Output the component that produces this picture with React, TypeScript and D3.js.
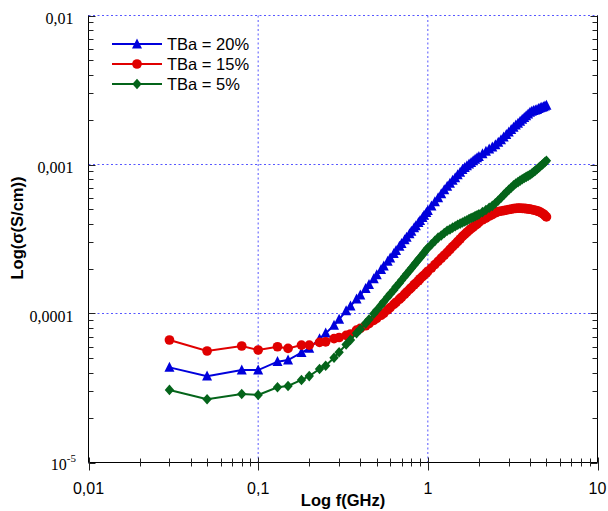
import React from "react";
import * as d3 from "d3";

const FREQ_GHZ = [0.03, 0.05, 0.08, 0.1, 0.13, 0.15, 0.18, 0.2, 0.23, 0.25, 0.28, 0.3, 0.33, 0.35, 0.38, 0.4, 0.43, 0.45, 0.48, 0.5, 0.53, 0.55, 0.58, 0.6, 0.63, 0.65, 0.68, 0.7, 0.73, 0.75, 0.78, 0.8, 0.83, 0.85, 0.88, 0.9, 0.93, 0.95, 0.98, 1.0,
  1.05, 1.1, 1.15, 1.2, 1.25, 1.3, 1.35, 1.4, 1.45, 1.5, 1.55, 1.6, 1.65, 1.7, 1.75, 1.8, 1.85, 1.9, 1.95, 2.0,
  2.1, 2.2, 2.3, 2.4, 2.5, 2.6, 2.7, 2.8, 2.9, 3.0, 3.1, 3.2, 3.3, 3.4, 3.5, 3.6, 3.7, 3.8, 3.9, 4.0, 4.1, 4.2, 4.3, 4.4, 4.5, 4.6, 4.7, 4.8, 4.9, 5.0];

const TBA20 = [4.35e-5, 3.8e-5, 4.17e-5, 4.17e-5, 4.75e-5, 4.87e-5, 5.46e-5, 5.83e-5, 6.76e-5, 7.38e-5, 8.32e-5, 9.12e-5, 1.04e-4, 1.12e-4, 1.25e-4, 1.33e-4, 1.47e-4, 1.56e-4, 1.71e-4, 1.82e-4, 1.97e-4, 2.08e-4, 2.24e-4, 2.35e-4, 2.52e-4, 2.64e-4, 2.82e-4, 2.94e-4, 3.12e-4, 3.24e-4, 3.43e-4, 3.56e-4, 3.75e-4, 3.87e-4, 4.07e-4, 4.21e-4, 4.41e-4, 4.55e-4, 4.75e-4, 4.9e-4,
  5.25e-4, 5.61e-4, 5.98e-4, 6.35e-4, 6.75e-4, 7.13e-4, 7.46e-4, 7.82e-4, 8.15e-4, 8.51e-4, 8.87e-4, 9.23e-4, 9.53e-4, 9.79e-4, 1.007e-3, 1.03e-3, 1.057e-3, 1.084e-3, 1.107e-3, 1.132e-3,
  1.18e-3, 1.225e-3, 1.27e-3, 1.31e-3, 1.355e-3, 1.406e-3, 1.466e-3, 1.528e-3, 1.589e-3, 1.652e-3, 1.714e-3, 1.778e-3, 1.837e-3, 1.89e-3, 1.95e-3, 2.01e-3, 2.065e-3, 2.12e-3, 2.18e-3, 2.24e-3, 2.27e-3, 2.3e-3, 2.32e-3, 2.34e-3, 2.37e-3, 2.4e-3, 2.42e-3, 2.44e-3, 2.47e-3, 2.49e-3];

const TBA15 = [6.64e-5, 5.6e-5, 6.05e-5, 5.69e-5, 5.98e-5, 5.83e-5, 6.14e-5, 6.14e-5, 6.4e-5, 6.46e-5, 6.78e-5, 6.9e-5, 7.13e-5, 7.28e-5, 7.73e-5, 7.94e-5, 8.28e-5, 8.55e-5, 8.99e-5, 9.29e-5, 9.73e-5, 1.002e-4, 1.057e-4, 1.096e-4, 1.151e-4, 1.189e-4, 1.247e-4, 1.285e-4, 1.346e-4, 1.39e-4, 1.452e-4, 1.493e-4, 1.56e-4, 1.6e-4, 1.66e-4, 1.71e-4, 1.77e-4, 1.81e-4, 1.87e-4, 1.92e-4,
  2.02e-4, 2.13e-4, 2.24e-4, 2.35e-4, 2.46e-4, 2.57e-4, 2.69e-4, 2.81e-4, 2.92e-4, 3.04e-4, 3.16e-4, 3.29e-4, 3.4e-4, 3.51e-4, 3.61e-4, 3.71e-4, 3.8e-4, 3.9e-4, 3.99e-4, 4.09e-4,
  4.25e-4, 4.37e-4, 4.5e-4, 4.61e-4, 4.74e-4, 4.83e-4, 4.86e-4, 4.91e-4, 4.94e-4, 4.99e-4, 5.02e-4, 5.06e-4, 5.08e-4, 5.09e-4, 5.09e-4, 5.08e-4, 5.07e-4, 5.05e-4, 5.03e-4, 5.01e-4, 4.99e-4, 4.95e-4, 4.92e-4, 4.89e-4, 4.84e-4, 4.79e-4, 4.72e-4, 4.65e-4, 4.55e-4, 4.45e-4];

const TBA5 = [3.07e-5, 2.66e-5, 2.88e-5, 2.84e-5, 3.2e-5, 3.26e-5, 3.58e-5, 3.8e-5, 4.24e-5, 4.46e-5, 5.05e-5, 5.5e-5, 6.19e-5, 6.65e-5, 7.38e-5, 7.85e-5, 8.59e-5, 9.12e-5, 9.95e-5, 1.052e-4, 1.138e-4, 1.197e-4, 1.29e-4, 1.35e-4, 1.44e-4, 1.51e-4, 1.6e-4, 1.67e-4, 1.77e-4, 1.84e-4, 1.94e-4, 2.01e-4, 2.12e-4, 2.19e-4, 2.3e-4, 2.37e-4, 2.48e-4, 2.56e-4, 2.68e-4, 2.75e-4,
  2.91e-4, 3.07e-4, 3.23e-4, 3.34e-4, 3.47e-4, 3.59e-4, 3.67e-4, 3.77e-4, 3.85e-4, 3.94e-4, 4.01e-4, 4.08e-4, 4.15e-4, 4.22e-4, 4.3e-4, 4.37e-4, 4.43e-4, 4.5e-4, 4.56e-4, 4.63e-4,
  4.79e-4, 4.95e-4, 5.12e-4, 5.28e-4, 5.5e-4, 5.73e-4, 5.98e-4, 6.25e-4, 6.52e-4, 6.76e-4, 7.0e-4, 7.24e-4, 7.45e-4, 7.62e-4, 7.8e-4, 7.96e-4, 8.11e-4, 8.26e-4, 8.39e-4, 8.53e-4, 8.71e-4, 8.91e-4, 9.1e-4, 9.29e-4, 9.51e-4, 9.73e-4, 9.93e-4, 1.016e-3, 1.038e-3, 1.059e-3];

const SERIES_NAMES = ["TBa = 20%", "TBa = 15%", "TBa = 5%"];
const X_TICK_VALUES = [0.01, 0.1, 1, 10];
const X_TICK_LABELS = ["0,01", "0,1", "1", "10"];
const Y_TICK_VALUES = [1e-2, 1e-3, 1e-4];
const Y_TICK_LABELS = ["0,01", "0,001", "0,0001"];
const X_TITLE = "Log f(GHz)";
const Y_TITLE = "Log(σ(S/cm))";

const W = 608, H = 511;
const LEFT = 88.5, RIGHT = 597.5, TOP = 15.5, BOTTOM = 462.5;

const COLORS = ["#0000dc", "#e00000", "#04641a"];

const triPath = "M0,-5.6L5,4.4L-5,4.4Z";
const circPath = d3.symbol().type(d3.symbolCircle).size(74)()!;
const diamPath = "M0,-5.3L4.7,0L0,5.3L-4.7,0Z";
const MARKERS = [triPath, circPath, diamPath];

export default function App() {
  const x = d3.scaleLog().domain([0.01, 10]).range([LEFT, RIGHT]);
  const y = d3.scaleLog().domain([1e-5, 1e-2]).range([BOTTOM, TOP]);
  const xTicks = x.ticks();
  const yTicks = y.ticks();
  const isMajor = (v: number) => Math.abs(Math.log10(v) - Math.round(Math.log10(v))) < 1e-6;

  const seriesData = [TBA20, TBA15, TBA5].map((vals) =>
    FREQ_GHZ.map((f, i) => [f, vals[i]] as [number, number])
  );
  const line = d3.line<[number, number]>().x((d) => x(d[0])).y((d) => y(d[1]));

  const gridColor = "#3a3aff";
  const sans = "'Liberation Sans', Arial, sans-serif";
  const serif = "'Liberation Serif', 'Times New Roman', serif";

  return (
    <svg width={W} height={H} style={{ position: "absolute", left: 0, top: 0, background: "#fff" }}>
      <g stroke={gridColor} strokeWidth={1} strokeDasharray="2,2.5" opacity={0.85}>
        {X_TICK_VALUES.map((v) => (
          <line key={"gx" + v} x1={x(v)} x2={x(v)} y1={TOP} y2={BOTTOM} />
        ))}
        {Y_TICK_VALUES.map((v) => (
          <line key={"gy" + v} x1={LEFT} x2={RIGHT} y1={y(v)} y2={y(v)} />
        ))}
      </g>
      <g stroke="#000" strokeWidth={1} fill="none">
        <line x1={LEFT} x2={LEFT} y1={TOP} y2={BOTTOM} />
        <line x1={RIGHT} x2={RIGHT} y1={TOP} y2={BOTTOM} />
        <line x1={LEFT} x2={RIGHT} y1={BOTTOM} y2={BOTTOM} />
      </g>
      <g stroke="#222" strokeWidth={1}>
        {yTicks.map((v, i) => {
          const len = isMajor(v) ? 7 : 5;
          const yy = Math.round(y(v)) + 0.5;
          return (
            <g key={"yt" + i}>
              <line x1={LEFT} x2={LEFT + len} y1={yy} y2={yy} />
              <line x1={RIGHT} x2={RIGHT - len} y1={yy} y2={yy} />
            </g>
          );
        })}
      </g>
      <g stroke="#222" strokeWidth={1}>
        {xTicks.map((v, i) => {
          const major = isMajor(v);
          const xx = Math.round(x(v)) + 0.5;
          return <line key={"xt" + i} x1={xx} x2={xx} y1={BOTTOM - (major ? 5 : 4)} y2={BOTTOM + (major ? 8 : 4)} />;
        })}
      </g>
      <g fontFamily={serif} fontSize={16} fill="#000" textAnchor="end">
        {Y_TICK_VALUES.map((v, i) => (
          <text key={"yl" + v} x={73.5} y={y(v) + 8}>{Y_TICK_LABELS[i]}</text>
        ))}
        <text x={76} y={y(1e-5) + 7}>
          10<tspan fontSize={11} dy={-8}>-5</tspan>
        </text>
      </g>
      <g fontFamily={sans} fontSize={16} fill="#000" textAnchor="middle">
        {X_TICK_VALUES.map((v, i) => (
          <text key={"xl" + v} x={x(v)} y={494}>{X_TICK_LABELS[i]}</text>
        ))}
      </g>
      <text x={(LEFT + RIGHT) / 2} y={506} fontFamily={sans} fontWeight="bold" fontSize={16.5} textAnchor="middle">{X_TITLE}</text>
      <text transform={`translate(23,${(TOP + BOTTOM) / 2 - 11}) rotate(-90)`} fontFamily={sans} fontWeight="bold" fontSize={16.5} textAnchor="middle">{Y_TITLE}</text>

      {seriesData.map((data, si) => (
        <g key={"s" + si}>
          <path d={line(data) || ""} fill="none" stroke={COLORS[si]} strokeWidth={2} />
          {data.map((d, j) => (
            <path key={j} d={MARKERS[si]} transform={`translate(${x(d[0])},${y(d[1])})`} fill={COLORS[si]} />
          ))}
        </g>
      ))}

      <g>
        {SERIES_NAMES.map((name, i) => {
          const ly = 44 + i * 20;
          return (
            <g key={"lg" + i}>
              <line x1={112} x2={162} y1={ly} y2={ly} stroke={COLORS[i]} strokeWidth={2} />
              <path d={MARKERS[i]} transform={`translate(137,${ly})`} fill={COLORS[i]} />
              <text x={167} y={ly + 6} fontFamily={sans} fontSize={16.5} fill="#000">{name}</text>
            </g>
          );
        })}
      </g>
    </svg>
  );
}
